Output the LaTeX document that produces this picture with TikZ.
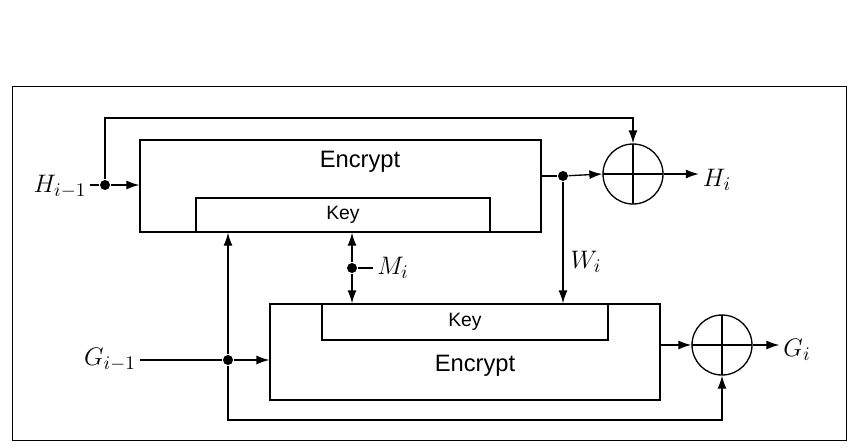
\documentclass[tikz,border=0pt]{standalone}
\usepackage{fontspec}
\setsansfont{Liberation Sans}
\usetikzlibrary{arrows.meta,positioning}

\begin{document}
\begin{tikzpicture}[x=0.02cm,y=-0.02cm,>={Latex[length=2.6mm,width=1.8mm]},line width=0.75pt,
  blk/.style={draw,rectangle,inner sep=0pt},
  xor/.style={draw,circle,minimum size=1.2cm,inner sep=0pt,
    path picture={\draw (path picture bounding box.north) -- (path picture bounding box.south)
      (path picture bounding box.west) -- (path picture bounding box.east);}},
  dot/.style={circle,fill,inner sep=0pt,minimum size=2mm},
  lbl/.style={font=\fontsize{15}{17}\selectfont,inner sep=2pt},
  txt/.style={font=\sffamily\fontsize{13.5}{16}\selectfont},
  keytxt/.style={font=\sffamily\fontsize{11}{13}\selectfont}]
\useasboundingbox (0,0) rectangle (848,447);
\draw[thin] (12,86) rectangle (846,440);
\node[blk,minimum width=8.02cm,minimum height=1.84cm] (encA) at (340.5,186) {};
\node[blk,minimum width=5.88cm,minimum height=0.68cm,keytxt] (keyA) at (343,215) {Key};
\node[txt] (txtA) at (360,162) {Encrypt};
\node[blk,minimum width=7.8cm,minimum height=1.92cm] (encB) at (465,352) {};
\node[blk,minimum width=5.72cm,minimum height=0.72cm,keytxt] (keyB) at (465,322) {Key};
\node[txt] (txtB) at (475,366) {Encrypt};
\node[xor] (xorA) at (633,174) {};
\node[xor] (xorB) at (722,345) {};
\node[dot] (jH) at (105,185) {};
\node[dot] (jW) at (563,176) {};
\node[dot] (jM) at (352,268) {};
\node[dot] (jG) at (228,360) {};
\node[lbl] (lH) at (60,187) {$H_{i-1}$};
\node[lbl] (lHi) at (717,180) {$H_i$};
\node[lbl] (lW) at (586,262) {$W_i$};
\node[lbl] (lM) at (393,268) {$M_i$};
\node[lbl] (lG) at (110,360) {$G_{i-1}$};
\node[lbl] (lGi) at (797,350) {$G_i$};
\coordinate (cA) at (105,118);
\coordinate (cB) at (228,420);
\draw (lH.east |- jH) -- (jH);
\draw[->] (jH) -- (encA.west |- jH);
\draw[->] (jH) -- (cA) -| (xorA.north);
\draw (encA.east |- jW) -- (jW);
\draw[->] (jW) -- (xorA.west);
\draw[->] (xorA.east) -- (xorA.east -| lHi.west);
\draw[->] (jW) -- (jW |- encB.north);
\draw (lM.west) -- (jM);
\draw[->] (jM) -- (jM |- keyA.south);
\draw[->] (jM) -- (jM |- keyB.north);
\draw (lG.east |- jG) -- (jG);
\draw[->] (jG) -- (jG -| encB.west);
\draw[->] (jG) -- (jG |- keyA.south);
\draw[->] (jG) -- (cB) -| (xorB.south);
\draw[->] (encB.east |- xorB) -- (xorB.west);
\draw[->] (xorB.east) -- (xorB.east -| lGi.west);
\end{tikzpicture}
\end{document}
